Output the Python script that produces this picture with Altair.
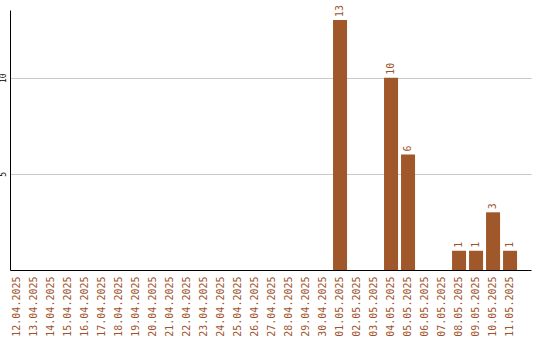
import altair as alt
import pandas as pd

# Daily counts, 12 April – 11 May 2025
dates = [
    "12.04.2025", "13.04.2025", "14.04.2025", "15.04.2025", "16.04.2025",
    "17.04.2025", "18.04.2025", "19.04.2025", "20.04.2025", "21.04.2025",
    "22.04.2025", "23.04.2025", "24.04.2025", "25.04.2025", "26.04.2025",
    "27.04.2025", "28.04.2025", "29.04.2025", "30.04.2025", "01.05.2025",
    "02.05.2025", "03.05.2025", "04.05.2025", "05.05.2025", "06.05.2025",
    "07.05.2025", "08.05.2025", "09.05.2025", "10.05.2025", "11.05.2025",
]
counts = [
    0, 0, 0, 0, 0, 0, 0, 0, 0, 0,
    0, 0, 0, 0, 0, 0, 0, 0, 0, 13,
    0, 0, 10, 6, 0, 0, 1, 1, 3, 1,
]

df = pd.DataFrame({"date": dates, "count": counts})

BAR = "#A0572A"
TXT = "#A0522D"
FONT = "DejaVu Sans Mono"

# bands packed to the left, spare room left at the right end
xscale = alt.Scale(paddingInner=0.176, paddingOuter=0.41, align=0)

x = alt.X(
    "date:N",
    sort=dates,
    scale=xscale,
    axis=alt.Axis(
        title=None,
        labelAngle=270,
        labelColor=TXT,
        labelFont=FONT,
        labelFontSize=10,
        labelPadding=6,
        ticks=False,
        domainColor="black",
        domainWidth=1,
        grid=False,
        labelOverlap=False,
    ),
)

y = alt.Y(
    "count:Q",
    scale=alt.Scale(domain=[0, 13.52], nice=False, zero=True),
    axis=alt.Axis(
        title=None,
        values=[5, 10],
        labelAngle=270,
        labelAlign="center",
        labelBaseline="bottom",
        labelFont=FONT,
        labelFontSize=8,
        labelColor="black",
        labelPadding=3,
        ticks=False,
        domainColor="black",
        domainWidth=1,
        grid=True,
        gridColor="#c8c8c8",
        gridWidth=1,
    ),
)

bars = alt.Chart(df).mark_bar(color=BAR).encode(x=x, y=y)

labels = (
    alt.Chart(df)
    .transform_filter(alt.datum["count"] > 0)
    .mark_text(
        angle=270,
        align="left",
        baseline="middle",
        dx=3,
        font=FONT,
        fontSize=10,
        color=TXT,
    )
    .encode(x=alt.X("date:N", sort=dates), y="count:Q", text="count:Q")
)

chart = (
    alt.layer(bars, labels)
    .properties(
        width=521,
        height=260,
        autosize=alt.AutoSizeParams(type="none"),
        padding={"left": 10, "top": 10, "right": 9, "bottom": 70},
        background="white",
    )
    .configure_view(stroke=None)
)

chart.save("out.html", embed_options={"renderer": "svg", "actions": False})
